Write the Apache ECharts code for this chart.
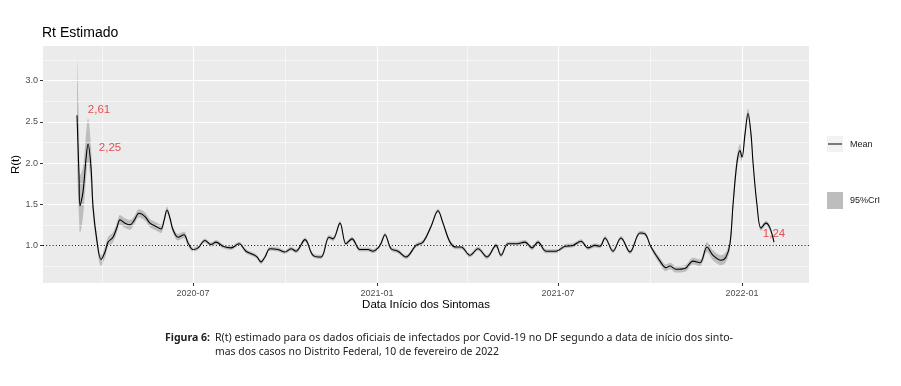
<!DOCTYPE html>
<html><head><meta charset="utf-8">
<script src="https://cdn.jsdelivr.net/npm/echarts@6/dist/echarts.min.js"></script>
<style>html,body{margin:0;padding:0;background:#fff}#c{width:901px;height:386px}</style>
</head><body><div id="c"></div>
<script>
// ---- data ----
const dates = [
'2020-03-07','2020-03-09','2020-03-10','2020-03-13','2020-03-16','2020-03-18','2020-03-21','2020-03-23','2020-03-27','2020-03-31',
'2020-04-04','2020-04-07','2020-04-12','2020-04-16','2020-04-19','2020-04-24','2020-04-29','2020-05-03','2020-05-08','2020-05-14',
'2020-05-19','2020-05-25','2020-05-30','2020-06-02','2020-06-05','2020-06-08','2020-06-11','2020-06-16','2020-06-22','2020-06-26',
'2020-07-01','2020-07-06','2020-07-13','2020-07-19','2020-07-24','2020-07-31','2020-08-08','2020-08-16','2020-08-23','2020-08-30',
'2020-09-03','2020-09-07','2020-09-11','2020-09-16','2020-09-24','2020-10-01','2020-10-07','2020-10-12','2020-10-21','2020-10-29',
'2020-11-06','2020-11-14','2020-11-18','2020-11-25','2020-12-01','2020-12-07','2020-12-15','2020-12-23','2020-12-28','2021-01-04',
'2021-01-09','2021-01-15','2021-01-22','2021-01-30','2021-02-09','2021-02-16','2021-02-24','2021-03-03','2021-03-08','2021-03-15',
'2021-03-21','2021-03-26','2021-04-04','2021-04-12','2021-04-21','2021-04-30','2021-05-05','2021-05-12','2021-05-20','2021-05-29',
'2021-06-05','2021-06-11','2021-06-19','2021-06-29','2021-07-08','2021-07-16','2021-07-24','2021-07-31','2021-08-07','2021-08-12',
'2021-08-17','2021-08-25','2021-09-02','2021-09-11','2021-09-21','2021-09-26','2021-10-02','2021-10-11','2021-10-17','2021-10-21',
'2021-10-27','2021-11-05','2021-11-13','2021-11-20','2021-11-27','2021-12-03','2021-12-11','2021-12-16','2021-12-20','2021-12-23',
'2021-12-27','2021-12-30','2022-01-01','2022-01-04','2022-01-07','2022-01-10','2022-01-12','2022-01-16','2022-01-20','2022-01-25',
'2022-01-29','2022-02-02'
];
const meanRt = [
2.58,1.85,1.48,1.65,2.05,2.23,1.95,1.47,1.05,0.83,
0.92,1.04,1.10,1.22,1.31,1.27,1.25,1.30,1.39,1.35,
1.27,1.23,1.20,1.30,1.43,1.33,1.19,1.10,1.13,1.03,
0.95,0.97,1.06,1.01,1.04,0.99,0.97,1.02,0.93,0.89,
0.86,0.80,0.86,0.96,0.95,0.92,0.96,0.93,1.07,0.88,
0.86,1.10,1.08,1.27,1.02,1.08,0.95,0.95,0.93,1.00,
1.13,0.96,0.93,0.86,1.00,1.04,1.23,1.42,1.27,1.04,
0.98,0.98,0.88,0.96,0.86,1.00,0.88,1.02,1.02,1.04,
0.97,1.04,0.93,0.93,0.99,1.00,1.05,0.97,1.00,0.99,
1.09,0.93,1.09,0.92,1.15,1.14,0.98,0.81,0.73,0.75,
0.71,0.72,0.81,0.79,0.98,0.88,0.82,0.86,1.02,1.49,
2.01,2.15,2.07,2.35,2.60,2.35,2.01,1.49,1.21,1.27,
1.21,1.04
];
// distance of the 95% CrI band below / above the mean
const ciBelow = [
0.60,0.50,0.33,0.30,0.25,0.22,0.20,0.12,0.07,0.08,
0.07,0.06,0.06,0.06,0.06,0.06,0.06,0.05,0.05,0.05,
0.05,0.05,0.05,0.04,0.04,0.04,0.04,0.04,0.04,0.04,
0.025,0.025,0.025,0.025,0.025,0.025,0.025,0.025,0.025,0.025,
0.025,0.025,0.025,0.025,0.025,0.025,0.025,0.025,0.025,0.025,
0.025,0.025,0.025,0.025,0.025,0.025,0.025,0.025,0.025,0.025,
0.025,0.025,0.025,0.025,0.025,0.025,0.025,0.025,0.025,0.025,
0.025,0.025,0.025,0.025,0.025,0.025,0.025,0.025,0.025,0.025,
0.025,0.025,0.025,0.025,0.025,0.025,0.025,0.025,0.025,0.025,
0.025,0.025,0.025,0.025,0.025,0.025,0.025,0.04,0.04,0.04,
0.04,0.04,0.04,0.04,0.06,0.06,0.06,0.06,0.06,0.08,
0.08,0.08,0.06,0.06,0.06,0.06,0.03,0.03,0.03,0.03,
0.03,0.03
];
const ciAbove = [
0.72,0.60,0.37,0.30,0.30,0.31,0.25,0.13,0.07,0.05,
0.06,0.06,0.06,0.06,0.06,0.06,0.06,0.05,0.05,0.05,
0.05,0.05,0.05,0.04,0.04,0.04,0.04,0.04,0.04,0.04,
0.025,0.025,0.025,0.025,0.025,0.025,0.025,0.025,0.025,0.025,
0.025,0.025,0.025,0.025,0.025,0.025,0.025,0.025,0.025,0.025,
0.025,0.025,0.025,0.025,0.025,0.025,0.025,0.025,0.025,0.025,
0.025,0.025,0.025,0.025,0.025,0.025,0.025,0.025,0.025,0.025,
0.025,0.025,0.025,0.025,0.025,0.025,0.025,0.025,0.025,0.025,
0.025,0.025,0.025,0.025,0.025,0.025,0.025,0.025,0.025,0.025,
0.025,0.025,0.025,0.025,0.025,0.025,0.025,0.04,0.04,0.04,
0.04,0.04,0.04,0.04,0.06,0.06,0.06,0.06,0.06,0.08,
0.08,0.08,0.06,0.06,0.06,0.06,0.03,0.03,0.03,0.03,
0.03,0.03
];
const xTickDates = ['2020-07-01','2021-01-01','2021-07-01','2022-01-01'];
const xMinorDates = ['2020-04-01','2020-10-01','2021-04-01','2021-10-01'];
const xRange = ['2020-02-02','2022-03-09'];
const yTicks = [1.0, 1.5, 2.0, 2.5, 3.0];
const yMinor = [0.75, 1.25, 1.75, 2.25, 2.75, 3.25];
const yRange = [0.544, 3.42];
const refLine = 1.0;
const annotDates = ['2020-03-29','2020-04-09','2022-02-02'];
const annotValues = [2.64, 2.19, 1.145];
const annotTexts = ['2,61','2,25','1,24'];
const titleText = 'Rt Estimado';
const xTitle = 'Data Início dos Sintomas';
const yTitle = 'R(t)';
const legendMean = 'Mean';
const legendCri = '95%CrI';
const captionLabel = 'Figura 6:';
const captionLine1 = 'R(t) estimado para os dados oficiais de infectados por Covid-19 no DF segundo a data de início dos sinto-';
const captionLine2 = 'mas dos casos no Distrito Federal, 10 de fevereiro de 2022';

// ---- build ----
const parseT = s => { const [y, m, d] = s.split('-').map(Number); return new Date(y, m - 1, d).getTime(); };
const lowBand = meanRt.map((m, i) => +(m - ciBelow[i]).toFixed(4));
const highBand = meanRt.map((m, i) => +(m + ciAbove[i]).toFixed(4));
const pairs = arr => dates.map((d, i) => [parseT(d), arr[i]]);
const FONT = 'Liberation Sans';
const SM = 0.35;
const PANEL = '#ebebeb';

function fitScale(text, font, target) {
  const ctx = document.createElement('canvas').getContext('2d');
  ctx.font = font;
  const w = ctx.measureText(text).width;
  return w > 0 ? target / w : 1;
}
const capFont = '"Noto Sans"';
const s0 = fitScale(captionLabel, 'bold 11px ' + capFont, 45);
const s1 = fitScale(captionLine1, '11px ' + capFont, 518);
const s2 = fitScale(captionLine2, '11px ' + capFont, 284);

const chart = echarts.init(document.getElementById('c'));
const fmtMonth = v => { const d = new Date(v); return d.getFullYear() + '-' + String(d.getMonth() + 1).padStart(2, '0'); };
const gridLines = (w, ys, xs) => ({
  silent: true, z: 3, symbol: ['none', 'none'], label: { show: false }, animation: false,
  lineStyle: { color: '#ffffff', width: w, type: 'solid' },
  emphasis: { disabled: true },
  data: ys.map(v => ({ yAxis: v })).concat(xs.map(d => ({ xAxis: parseT(d) })))
});

chart.setOption({
  animation: false,
  backgroundColor: '#ffffff',
  title: {
    text: titleText, left: 42, top: 26, padding: 0,
    textStyle: { fontFamily: FONT, fontSize: 14, fontWeight: 'normal', color: '#000' }
  },
  grid: { left: 43, right: 92, top: 46, bottom: 103, show: true, backgroundColor: PANEL, borderWidth: 0, containLabel: false, outerBoundsMode: 'none' },
  xAxis: {
    type: 'value',
    min: parseT(xRange[0]), max: parseT(xRange[1]),
    axisLine: { show: false },
    splitLine: { show: false },
    axisTick: { show: true, length: 3, lineStyle: { color: '#333', width: 1 }, customValues: xTickDates.map(parseT) },
    axisLabel: { show: true, customValues: xTickDates.map(parseT), formatter: fmtMonth, color: '#4d4d4d', fontSize: 9, fontFamily: FONT, margin: 6 },
    name: xTitle, nameLocation: 'middle', nameGap: 16, nameMoveOverlap: false,
    nameTextStyle: { fontFamily: FONT, fontSize: 11.5, color: '#000' }
  },
  yAxis: {
    type: 'value',
    min: yRange[0], max: yRange[1],
    axisLine: { show: false },
    splitLine: { show: false },
    axisTick: { show: true, length: 3, lineStyle: { color: '#333', width: 1 }, customValues: yTicks },
    axisLabel: { show: true, customValues: yTicks, formatter: v => Number(v).toFixed(1), color: '#4d4d4d', fontSize: 9, fontFamily: FONT, margin: 5 },
    name: yTitle, nameLocation: 'middle', nameRotate: 90, nameGap: 21, nameMoveOverlap: false,
    nameTextStyle: { fontFamily: FONT, fontSize: 11.5, color: '#000' }
  },
  series: [
    { // upper edge of 95% CrI, filled down to the panel bottom
      name: legendCri, type: 'line', data: pairs(highBand), smooth: SM,
      symbol: 'none', lineStyle: { width: 0, opacity: 0 }, areaStyle: { color: '#bdbdbd', opacity: 1, origin: 'start' },
      silent: true, z: 2
    },
    { // lower edge of 95% CrI, panel colour underneath
      name: 'ciLow', type: 'line', data: pairs(lowBand), smooth: SM,
      symbol: 'none', lineStyle: { width: 0, opacity: 0 }, areaStyle: { color: PANEL, opacity: 1, origin: 'start' },
      silent: true, z: 2.5,
      markLine: gridLines(0.55, yMinor, xMinorDates)
    },
    {
      type: 'line', data: [], silent: true, z: 3,
      markLine: gridLines(1.1, yTicks, xTickDates)
    },
    {
      name: legendMean, type: 'line', data: pairs(meanRt), smooth: SM,
      symbol: 'none', lineStyle: { color: '#000', width: 1.1 }, z: 4,
      markLine: {
        silent: true, z: 5, symbol: ['none', 'none'], label: { show: false }, animation: false,
        lineStyle: { color: '#000', width: 1, type: [1, 2.2] },
        data: [{ yAxis: refLine }]
      }
    },
    {
      type: 'scatter', data: annotDates.map((d, i) => [parseT(d), annotValues[i], annotTexts[i]]),
      symbolSize: 1, itemStyle: { color: 'transparent' }, z: 6, silent: true,
      label: { show: true, position: 'inside', formatter: p => p.data[2], color: '#e3262b', fontSize: 11.5, fontFamily: FONT }
    }
  ],
  graphic: [
    { type: 'rect', shape: { x: 827, y: 136, width: 16, height: 16 }, style: { fill: '#f2f2f2' } },
    { type: 'line', shape: { x1: 828, y1: 144, x2: 842, y2: 144 }, style: { stroke: '#000', lineWidth: 1 } },
    { type: 'text', x: 850, y: 144.5, style: { text: legendMean, fontSize: 9, fontFamily: FONT, fill: '#1a1a1a', verticalAlign: 'middle' } },
    { type: 'rect', shape: { x: 827, y: 192, width: 16, height: 17 }, style: { fill: '#bdbdbd' } },
    { type: 'text', x: 850, y: 201, style: { text: legendCri, fontSize: 9, fontFamily: FONT, fill: '#1a1a1a', verticalAlign: 'middle' } },
    { type: 'text', x: 165, y: 338, scaleX: s0, style: { text: captionLabel, fontSize: 11, fontWeight: 'bold', fontFamily: 'Noto Sans', fill: '#222', verticalAlign: 'middle' } },
    { type: 'text', x: 215, y: 338, scaleX: s1, style: { text: captionLine1, fontSize: 11, fontFamily: 'Noto Sans', fill: '#222', verticalAlign: 'middle' } },
    { type: 'text', x: 215, y: 352, scaleX: s2, style: { text: captionLine2, fontSize: 11, fontFamily: 'Noto Sans', fill: '#222', verticalAlign: 'middle' } }
  ]
});
</script>
</body></html>
